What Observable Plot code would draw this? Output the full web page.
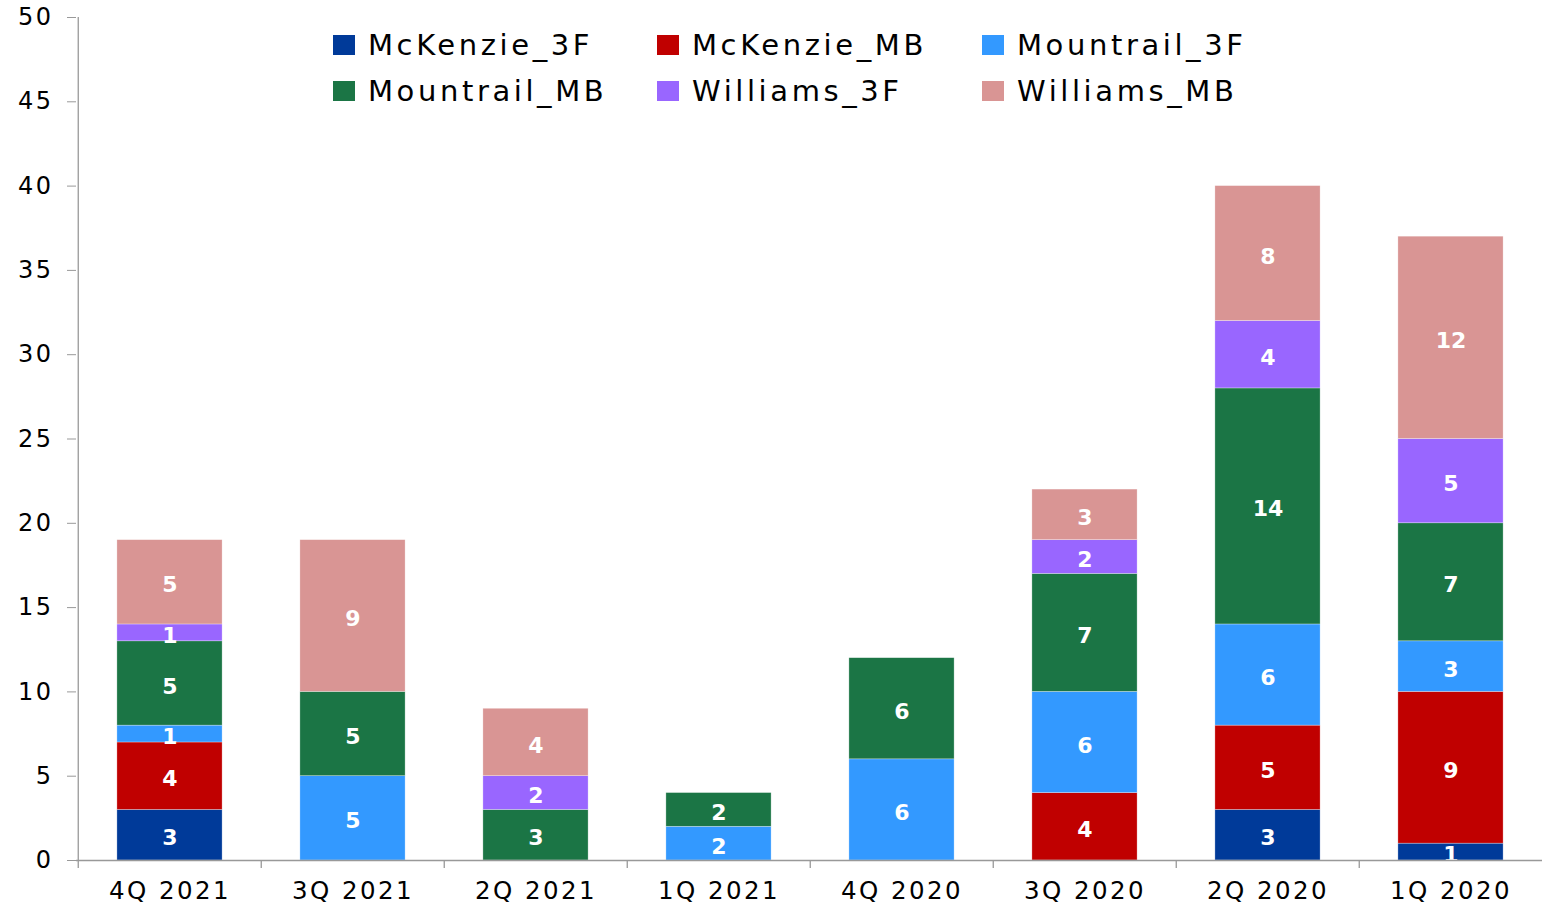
<!DOCTYPE html>
<html>
<head>
<meta charset="utf-8">
<script src="https://cdn.jsdelivr.net/npm/d3@7"></script>
<script src="https://cdn.jsdelivr.net/npm/@observablehq/plot@0.6"></script>
<style>
  html, body { margin: 0; padding: 0; background: #fff; }
  #wrap { position: relative; width: 1542px; height: 906px; }
  #legend { position: absolute; left: 333px; top: 22px; display: grid;
    grid-template-columns: 324px 325px 300px; grid-auto-rows: 46px;
    font-family: "DejaVu Sans", sans-serif; font-size: 29px; letter-spacing: 3.6px; color: #000; }
  .item { display: flex; align-items: center; white-space: nowrap; }
  .sw { width: 22px; height: 20px; margin-right: 13px; flex: none; }
  g[aria-label="y-axis tick label"] text { letter-spacing: 2.5px; font-size: 24px; }
  g[aria-label="x-axis tick label"] text { letter-spacing: 2.4px; font-size: 24.5px; }
</style>
</head>
<body>
<div id="wrap"><div id="legend"></div></div>
<script>
const categories = ["4Q 2021","3Q 2021","2Q 2021","1Q 2021","4Q 2020","3Q 2020","2Q 2020","1Q 2020"];
const seriesNames = ["McKenzie_3F","McKenzie_MB","Mountrail_3F","Mountrail_MB","Williams_3F","Williams_MB"];
const seriesColors = ["#003A99","#C00000","#3399FF","#1B7545","#9966FF","#D99594"];
const McKenzie_3F = [3,0,0,0,0,0,3,1];
const McKenzie_MB = [4,0,0,0,0,4,5,9];
const Mountrail_3F = [1,5,0,2,6,6,6,3];
const Mountrail_MB = [5,5,3,2,6,7,14,7];
const Williams_3F = [1,0,2,0,0,2,4,5];
const Williams_MB = [5,9,4,0,0,3,8,12];
const yTicks = [0,5,10,15,20,25,30,35,40,45,50];

const seriesValues = [McKenzie_3F, McKenzie_MB, Mountrail_3F, Mountrail_MB, Williams_3F, Williams_MB];
const data = [];
seriesNames.forEach((s, i) => categories.forEach((c, j) => {
  if (seriesValues[i][j] > 0) data.push({category: c, series: s, value: seriesValues[i][j]});
}));

const W = 1542, H = 906;
const xRange = [76, 1544];
const step = (xRange[1] - xRange[0]) / categories.length;
const barInset = step * 0.212;
const axisColor = "#999";

const chart = Plot.plot({
  width: W, height: H,
  marginTop: 17, marginBottom: 46, marginLeft: 76, marginRight: 0,
  style: {fontFamily: "DejaVu Sans, sans-serif", background: "white", overflow: "visible"},
  x: {domain: categories, range: xRange, padding: 0, label: null},
  y: {domain: [0, 50], label: null},
  color: {domain: seriesNames, range: seriesColors},
  marks: [
    Plot.barY(data, {x: "category", y: "value", fill: "series", order: seriesNames,
      insetLeft: barInset, insetRight: barInset, stroke: "white", strokeWidth: 0.6, strokeOpacity: 0.5}),
    Plot.text(data, Plot.stackY({x: "category", y: "value", z: "series", order: seriesNames,
      text: d => String(d.value), fill: "white", fontWeight: "bold", fontSize: 22, dy: 3})),
    // axis lines
    Plot.ruleY([0], {stroke: axisColor, strokeWidth: 1.3}),
    Plot.ruleX([categories[0]], {dx: -step / 2, y1: 0, y2: 50, stroke: axisColor, strokeWidth: 1.3}),
    // x tick marks at band boundaries
    Plot.ruleX(categories, {x: d => d, dx: -step / 2, y1: 0, y2: 0, insetBottom: -8, stroke: axisColor, strokeWidth: 1.3}),
    Plot.axisY({ticks: yTicks, tickSize: 9, tickPadding: 14, stroke: axisColor, fill: "black",
      fontSize: 24, tickFormat: d => String(d), label: null}),
    Plot.axisX({tickSize: 0, tickPadding: 21, fill: "black", fontSize: 24.5, label: null})
  ]
});
document.getElementById("wrap").prepend(chart);

const legend = document.getElementById("legend");
seriesNames.forEach((s, i) => {
  const it = document.createElement("div");
  it.className = "item";
  const sw = document.createElement("span");
  sw.className = "sw";
  sw.style.background = seriesColors[i];
  const t = document.createElement("span");
  t.textContent = s;
  it.appendChild(sw); it.appendChild(t);
  legend.appendChild(it);
});
</script>
</body>
</html>
